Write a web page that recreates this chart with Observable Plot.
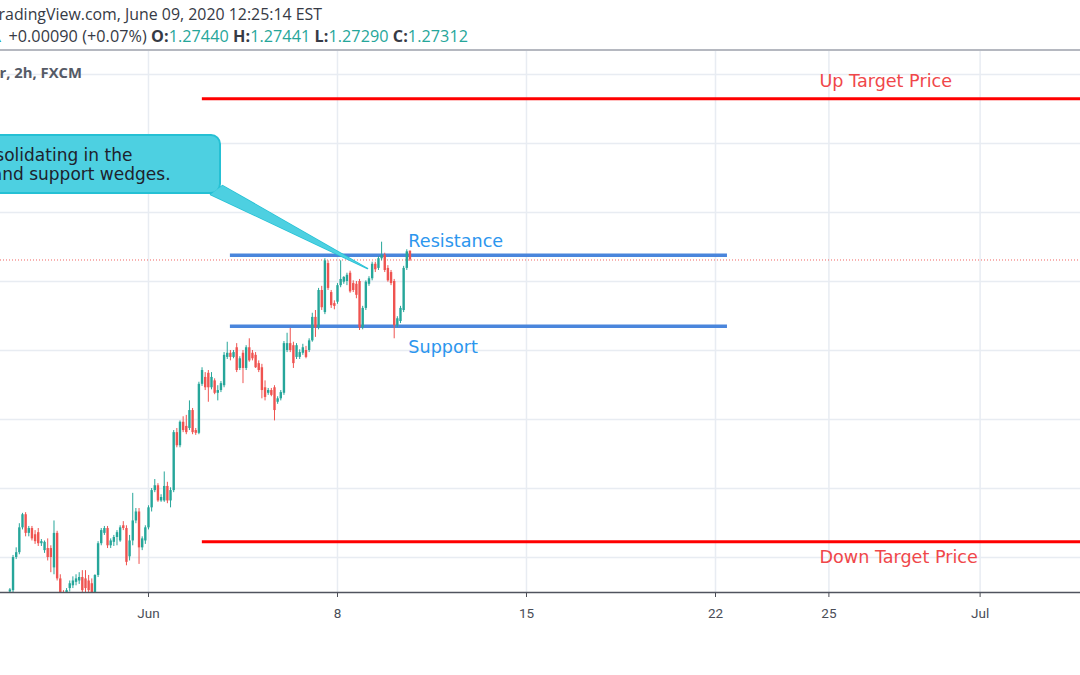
<!DOCTYPE html>
<html>
<head>
<meta charset="utf-8">
<script src="https://cdn.jsdelivr.net/npm/d3@7"></script>
<script src="https://cdn.jsdelivr.net/npm/@observablehq/plot@0.6"></script>
<style>
html, body { margin: 0; padding: 0; background: #ffffff; }
body { width: 1080px; height: 675px; overflow: hidden; position: relative; font-family: "Open Sans", "Noto Sans", sans-serif; }
.hdr { position: absolute; white-space: nowrap; z-index: 3; }
#h1 { top: 3px; right: 758px; font-size: 15.9px; color: #363a45; line-height: 22px; }
#h2 { top: 25px; right: 612px; font-size: 16.2px; color: #363a45; line-height: 22px; letter-spacing: 0.05px; }
#h2 b { color: #363a45; font-weight: 700; }
#h2 .v { color: #26a69a; }
#h2 .tri { color: #26a69a; font-size: 15px; }
#h3 { top: 62px; right: 998px; font-size: 14.8px; font-weight: 700; color: #555a66; line-height: 20px; }
#sep { position: absolute; top: 49px; left: 0; width: 1080px; height: 2px; background: #b5b8c0; z-index: 3; }
#chart { position: absolute; top: 50px; left: 0; }
</style>
</head>
<body>
<div id="h1" class="hdr"></div>
<div id="h2" class="hdr"></div>
<div id="h3" class="hdr"></div>
<div id="sep"></div>
<div id="chart"></div>
<script>
// ---------- header texts ----------
const HEADER_TITLE = "GBPUSD, 120 TradingView.com, June 09, 2020 12:25:14 EST";
const HEADER_SYMBOL = "British Pound / U.S. Dollar, 2h, FXCM";
const HEADER_CHANGE = "+0.00090 (+0.07%)";
const HEADER_KEYS = ["O", "H", "L", "C"];
const HEADER_VALS = ["1.27440", "1.27441", "1.27290", "1.27312"];

// ---------- candles (2h bars; bar 0 = first bar of Jun 1) ----------
const FIRST_BAR = -44;
const OPEN = [
  1.2250, 1.2252, 1.2300, 1.2307, 1.2343, 1.2362, 1.2335, 1.2342,
  1.2333, 1.2336, 1.2320, 1.2310, 1.2313, 1.2313, 1.2285, 1.2335,
  1.2269, 1.2248, 1.2243, 1.2255, 1.2259, 1.2264, 1.2266, 1.2271,
  1.2269, 1.2266, 1.2262, 1.2249, 1.2274, 1.2320, 1.2335, 1.2342,
  1.2317, 1.2322, 1.2329, 1.2324, 1.2346, 1.2342, 1.2301, 1.2324,
  1.2353, 1.2366, 1.2314, 1.2324, 1.2343, 1.2372, 1.2397, 1.2404,
  1.2382, 1.2382, 1.2403, 1.2382, 1.2397, 1.2481, 1.2462, 1.2496,
  1.2490, 1.2487, 1.2513, 1.2484, 1.2480, 1.2551, 1.2561, 1.2567,
  1.2546, 1.2556, 1.2538, 1.2542, 1.2549, 1.2590, 1.2596, 1.2590,
  1.2604, 1.2574, 1.2596, 1.2574, 1.2604, 1.2596, 1.2593, 1.2581,
  1.2575, 1.2546, 1.2538, 1.2542, 1.2546, 1.2525, 1.2530, 1.2538,
  1.2600, 1.2610, 1.2607, 1.2590, 1.2590, 1.2596, 1.2600, 1.2600,
  1.2614, 1.2648, 1.2633, 1.2687, 1.2655, 1.2726, 1.2684, 1.2668,
  1.2670, 1.2694, 1.2699, 1.2700, 1.2712, 1.2697, 1.2696, 1.2700,
  1.2633, 1.2661, 1.2696, 1.2704, 1.2725, 1.2719, 1.2733, 1.2738,
  1.2719, 1.2713, 1.2700, 1.2636, 1.2642, 1.2658, 1.2719, 1.27440
];
const HIGH = [
  1.2255, 1.2303, 1.2314, 1.2349, 1.2364, 1.2365, 1.2345, 1.2345,
  1.2339, 1.2342, 1.2326, 1.2324, 1.2327, 1.2317, 1.2353, 1.2338,
  1.2275, 1.2252, 1.2255, 1.2266, 1.2272, 1.2275, 1.2278, 1.2281,
  1.2281, 1.2274, 1.2269, 1.2275, 1.2323, 1.2342, 1.2345, 1.2345,
  1.2327, 1.2332, 1.2339, 1.2346, 1.2352, 1.2346, 1.2332, 1.2393,
  1.2371, 1.2371, 1.2330, 1.2346, 1.2375, 1.2400, 1.2413, 1.2407,
  1.2391, 1.2424, 1.2409, 1.2401, 1.2484, 1.2487, 1.2498, 1.2504,
  1.2506, 1.2527, 1.2516, 1.2487, 1.2554, 1.2575, 1.2568, 1.2571,
  1.2568, 1.2559, 1.2549, 1.2555, 1.2597, 1.2612, 1.2600, 1.2600,
  1.2610, 1.2591, 1.2600, 1.2607, 1.2617, 1.2600, 1.2597, 1.2585,
  1.2580, 1.2556, 1.2545, 1.2545, 1.2549, 1.2533, 1.2542, 1.2613,
  1.2625, 1.2632, 1.2612, 1.2610, 1.2601, 1.2609, 1.2606, 1.2617,
  1.2654, 1.2658, 1.2690, 1.2693, 1.2733, 1.2730, 1.2687, 1.2672,
  1.2697, 1.2730, 1.2707, 1.2712, 1.2715, 1.2701, 1.2700, 1.2703,
  1.2664, 1.2701, 1.2707, 1.2728, 1.2728, 1.2736, 1.2757, 1.2741,
  1.2723, 1.2716, 1.2703, 1.2649, 1.2664, 1.2722, 1.2746, 1.27441
];
const LOW = [
  1.2248, 1.2249, 1.2297, 1.2304, 1.2340, 1.2330, 1.2330, 1.2324,
  1.2319, 1.2316, 1.2316, 1.2306, 1.2295, 1.2278, 1.2275, 1.2266,
  1.2243, 1.2237, 1.2240, 1.2250, 1.2255, 1.2259, 1.2261, 1.2249,
  1.2249, 1.2246, 1.2246, 1.2246, 1.2271, 1.2317, 1.2332, 1.2313,
  1.2313, 1.2316, 1.2317, 1.2322, 1.2339, 1.2288, 1.2295, 1.2317,
  1.2349, 1.2290, 1.2310, 1.2319, 1.2340, 1.2366, 1.2394, 1.2380,
  1.2380, 1.2380, 1.2378, 1.2372, 1.2394, 1.2459, 1.2459, 1.2481,
  1.2478, 1.2484, 1.2478, 1.2477, 1.2478, 1.2548, 1.2542, 1.2525,
  1.2543, 1.2536, 1.2527, 1.2539, 1.2546, 1.2587, 1.2585, 1.2588,
  1.2568, 1.2571, 1.2552, 1.2571, 1.2583, 1.2585, 1.2574, 1.2568,
  1.2530, 1.2527, 1.2535, 1.2533, 1.2498, 1.2522, 1.2527, 1.2535,
  1.2597, 1.2597, 1.2574, 1.2587, 1.2587, 1.2593, 1.2588, 1.2597,
  1.2612, 1.2619, 1.2630, 1.2658, 1.2652, 1.2687, 1.2661, 1.2659,
  1.2667, 1.2691, 1.2696, 1.2694, 1.2683, 1.2684, 1.2675, 1.2629,
  1.2630, 1.2658, 1.2693, 1.2701, 1.2713, 1.2716, 1.2730, 1.2713,
  1.2699, 1.2694, 1.2617, 1.2633, 1.2639, 1.2655, 1.2716, 1.27290
];
const CLOSE = [
  1.2253, 1.2300, 1.2307, 1.2343, 1.2362, 1.2335, 1.2342, 1.2327,
  1.2323, 1.2320, 1.2323, 1.2322, 1.2300, 1.2300, 1.2335, 1.2269,
  1.2248, 1.2240, 1.2252, 1.2262, 1.2266, 1.2269, 1.2271, 1.2252,
  1.2255, 1.2252, 1.2249, 1.2274, 1.2320, 1.2339, 1.2342, 1.2317,
  1.2324, 1.2329, 1.2336, 1.2343, 1.2342, 1.2293, 1.2324, 1.2353,
  1.2366, 1.2314, 1.2327, 1.2343, 1.2372, 1.2397, 1.2404, 1.2382,
  1.2387, 1.2403, 1.2382, 1.2397, 1.2481, 1.2462, 1.2496, 1.2484,
  1.2481, 1.2513, 1.2481, 1.2480, 1.2551, 1.2571, 1.2546, 1.2546,
  1.2561, 1.2538, 1.2542, 1.2552, 1.2593, 1.2596, 1.2590, 1.2597,
  1.2571, 1.2588, 1.2574, 1.2604, 1.2585, 1.2588, 1.2575, 1.2571,
  1.2542, 1.2532, 1.2542, 1.2535, 1.2513, 1.2530, 1.2539, 1.2610,
  1.2610, 1.2600, 1.2581, 1.2607, 1.2597, 1.2604, 1.2590, 1.2614,
  1.2648, 1.2633, 1.2687, 1.2662, 1.2730, 1.2690, 1.2665, 1.2664,
  1.2694, 1.2703, 1.2706, 1.2709, 1.2685, 1.2687, 1.2680, 1.2633,
  1.2661, 1.2699, 1.2704, 1.2725, 1.2717, 1.2733, 1.2738, 1.2716,
  1.2701, 1.2697, 1.2636, 1.2646, 1.2661, 1.2719, 1.2743, 1.27312
];
const LAST_CLOSE = 1.27312;

// ---------- axes ----------
const TICK_BARS = [0, 60, 120, 180, 216, 264];
const TICK_LABELS = ["Jun", "8", "15", "22", "25", "Jul"];
const PRICE_GRID = [1.23, 1.24, 1.25, 1.26, 1.27, 1.28, 1.29, 1.30];
const X_DOMAIN = [-46.98, 295.87];
const Y_DOMAIN = [1.22493, 1.30348];

// ---------- drawings ----------
const TARGET_NAMES = ["Up Target Price", "Down Target Price"];
const TARGET_PRICES = [1.2965, 1.2323];
const TARGET_LABEL_PRICES = [1.2990, 1.2300];
const TARGET_FROM = 17.1, TARGET_TO = 400, TARGET_LABEL_BAR = 213;

const LEVEL_NAMES = ["Resistance", "Support"];
const LEVEL_PRICES = [1.2738, 1.2635];
const LEVEL_LABEL_PRICES = [1.2758, 1.2605];
const LEVEL_FROM = 26, LEVEL_TO = 183.8, LEVEL_LABEL_BAR = 82.5;

const NOTE_LINES = ["GBPUSD is consolidating in the", "resistance and support wedges."];
const NOTE_LINE_END_BARS = [-5.1, 7.0];
const NOTE_LINE_PRICES = [1.28820, 1.28555];
const NOTE_BOX_BARS = [-70, 22.86];
const NOTE_BOX_PRICES = [1.28275, 1.29116];
const NOTE_TAIL_BARS = [19.68, 23.49, 69.52];
const NOTE_TAIL_PRICES = [1.28261, 1.28391, 1.27188];

// ---------- build ----------
document.getElementById("h1").textContent = HEADER_TITLE;
document.getElementById("h3").textContent = HEADER_SYMBOL;
const h2 = document.getElementById("h2");
let h2html = `<span class="v">${HEADER_VALS[3]}</span> <span class="tri">&#9650;</span> ${HEADER_CHANGE} `;
h2html += HEADER_KEYS.map((k, i) => `<b>${k}:</b><span class="v">${HEADER_VALS[i]}</span>`).join(" ");
h2.innerHTML = h2html;

const candles = OPEN.map((o, k) => ({
  bar: FIRST_BAR + k, open: o, high: HIGH[k], low: LOW[k], close: CLOSE[k]
}));
const upC = candles.filter(d => d.close >= d.open);
const downC = candles.filter(d => d.close < d.open);

const targets = TARGET_NAMES.map((n, i) => ({name: n, price: TARGET_PRICES[i], lp: TARGET_LABEL_PRICES[i]}));
const levels = LEVEL_NAMES.map((n, i) => ({name: n, price: LEVEL_PRICES[i], lp: LEVEL_LABEL_PRICES[i]}));
const noteLines = NOTE_LINES.map((t, i) => ({text: t, bar: NOTE_LINE_END_BARS[i], price: NOTE_LINE_PRICES[i]}));
const tail = NOTE_TAIL_BARS.map((b, i) => ({bar: b, price: NOTE_TAIL_PRICES[i]}));
const box = [{x1: NOTE_BOX_BARS[0], x2: NOTE_BOX_BARS[1], y1: NOTE_BOX_PRICES[0], y2: NOTE_BOX_PRICES[1]}];

const GREEN = "#26a69a", RED = "#ef5350";
const FONT = "DejaVu Sans";
const LABEL_SIZE = 17.6;

const chart = Plot.plot({
  width: 1080,
  height: 625,
  marginTop: 0, marginRight: 0, marginBottom: 83, marginLeft: 0,
  style: {fontFamily: "Roboto", fontSize: "13.5px", color: "#4a4d57", background: "transparent", overflow: "hidden"},
  x: {type: "linear", domain: X_DOMAIN, ticks: TICK_BARS, tickFormat: d => TICK_LABELS[TICK_BARS.indexOf(d)], tickSize: 5, tickPadding: 11, label: null},
  y: {domain: Y_DOMAIN, axis: null, clamp: true},
  marks: [
    Plot.ruleY(PRICE_GRID, {stroke: "#e8ecf2", strokeWidth: 1.5}),
    Plot.ruleX(TICK_BARS, {stroke: "#e8ecf2", strokeWidth: 1.5}),
    Plot.ruleY([LAST_CLOSE], {stroke: RED, strokeWidth: 1, strokeDasharray: "1,2", strokeOpacity: 0.9}),
    Plot.ruleY(targets, {y: "price", x1: TARGET_FROM, x2: TARGET_TO, stroke: "#ff0000", strokeWidth: 3}),
    Plot.ruleY(levels, {y: "price", x1: LEVEL_FROM, x2: LEVEL_TO, stroke: "#4a86dc", strokeWidth: 3.5}),
    Plot.ruleX(upC, {x: "bar", y1: "low", y2: "high", stroke: GREEN, strokeWidth: 1}),
    Plot.ruleX(downC, {x: "bar", y1: "low", y2: "high", stroke: RED, strokeWidth: 1}),
    Plot.ruleX(upC, {x: "bar", y1: "open", y2: "close", stroke: GREEN, strokeWidth: 2.4}),
    Plot.ruleX(downC, {x: "bar", y1: "open", y2: "close", stroke: RED, strokeWidth: 2.4}),
    Plot.line(tail, {x: "bar", y: "price", curve: "linear-closed", fill: "#4dd0e1", stroke: "#25c0d4", strokeWidth: 1.5}),
    Plot.rect(box, {x1: "x1", x2: "x2", y1: "y1", y2: "y2", rx: 9, fill: "#4dd0e1", stroke: "#25c0d4", strokeWidth: 2}),
    Plot.line(tail, {x: "bar", y: "price", curve: "linear-closed", fill: "#4dd0e1", stroke: "none"}),
    Plot.text(noteLines, {x: "bar", y: "price", text: "text", textAnchor: "end", fontFamily: FONT, fontSize: 17, fill: "#1e222d"}),
    Plot.text(levels, {x: LEVEL_LABEL_BAR, y: "lp", text: "name", textAnchor: "start", fontFamily: FONT, fontSize: LABEL_SIZE, fill: "#2c96ee"}),
    Plot.text(targets, {x: TARGET_LABEL_BAR, y: "lp", text: "name", textAnchor: "start", fontFamily: FONT, fontSize: LABEL_SIZE, fill: "#f0474a"}),
    Plot.ruleY([Y_DOMAIN[0]], {stroke: "#50535e", strokeWidth: 1.5})
  ]
});
document.getElementById("chart").appendChild(chart);
</script>
</body>
</html>
